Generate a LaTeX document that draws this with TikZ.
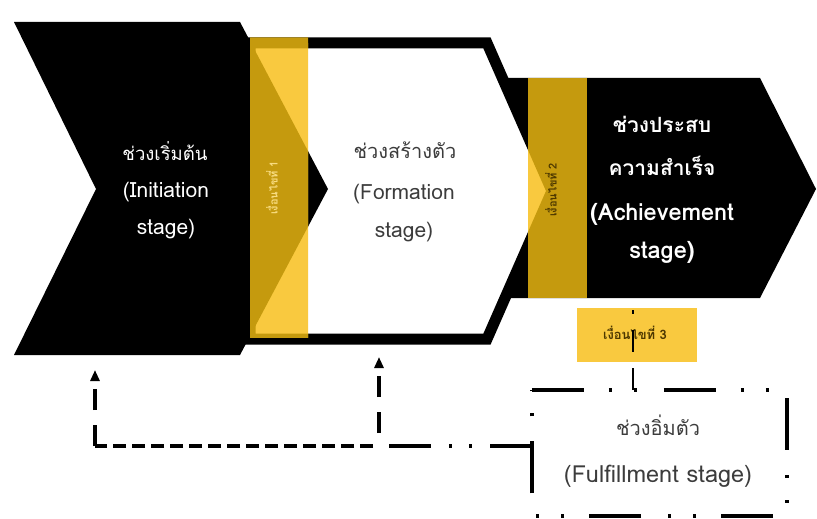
\documentclass[tikz,border=0pt]{standalone}
\usepackage{fontspec}
\newfontfamily\thaifont[Script=Thai]{Loma}
\usetikzlibrary{arrows.meta}
\definecolor{gold}{HTML}{C59A0E}
\definecolor{lightgold}{HTML}{F9C93F}
\definecolor{softgrey}{HTML}{3C3C3C}
\definecolor{cream}{HTML}{F8DC80}
\definecolor{brown}{HTML}{4D3800}
\tikzset{
  formline/.style={line width=11pt, miter limit=10, line join=miter},
  txt/.style={anchor=base, inner sep=0pt},
  fs/.style={font=\thaifont\fontsize{#1}{#1}\selectfont},
  fsb/.style={font=\thaifont\bfseries\fontsize{#1}{#1}\selectfont},
  gatetext/.style={rotate=90, inner sep=0pt, font=\thaifont\bfseries\fontsize{11}{13}\selectfont},
  gatebox/.style={fill=lightgold, minimum width=120pt, minimum height=54pt, inner sep=0pt},
  endbox/.style={minimum width=255pt, minimum height=126pt, inner sep=0pt},
  boxline/.style={line width=4.5pt, dash pattern=on 52pt off 25pt on 3pt off 22pt on 3pt off 27pt},
  ddline/.style={line width=3.5pt, dash pattern=on 42pt off 18pt on 3pt off 17pt on 3pt off 18pt},
  shortdash/.style={line width=3.5pt, dash pattern=on 13pt off 6pt},
  longdash/.style={line width=3.5pt, dash pattern=on 21pt off 15pt},
  uparrow/.style={-{Triangle[width=9pt,length=11pt]}},
}
\begin{document}
\begin{tikzpicture}[x=1pt, y=-1pt, font=\thaifont]
\useasboundingbox (0,0) rectangle (817,519);

% corner points of the three stage shapes
\coordinate (i1) at (14,22);   \coordinate (i2) at (240,22);  \coordinate (i3) at (328,189);
\coordinate (i4) at (240,355); \coordinate (i5) at (14,355);  \coordinate (i6) at (96,189);
\coordinate (f1) at (250,43);  \coordinate (f2) at (487,43);  \coordinate (f3) at (552,191);
\coordinate (f4) at (487,339); \coordinate (f5) at (250,339);
\coordinate (a1) at (500,78);  \coordinate (a2) at (760,78);  \coordinate (a3) at (816,189);
\coordinate (a4) at (760,298); \coordinate (a5) at (500,298);

% achievement arrow
\fill[black] (a1) -- (a2) -- (a3) -- (a4) -- (a5) -- cycle;
% formation outline
\draw[formline, draw=black, fill=white] (f1) -- (f2) -- (f3) -- (f4) -- (f5) -- cycle;
% initiation chevron
\fill[black] (i1) -- (i2) -- (i3) -- (i4) -- (i5) -- (i6) -- cycle;

% first gate bar
\begin{scope}
  \clip (250,38) rectangle (308,337);
  \fill[gold] (250,38) rectangle (308,337);
  \draw[formline, draw=gold, fill=lightgold] (f1) -- (f2) -- (f3) -- (f4) -- (f5) -- cycle;
  \fill[gold] (i1) -- (i2) -- (i3) -- (i4) -- (i5) -- (i6) -- cycle;
\end{scope}

% second gate bar
\begin{scope}
  \clip (528,78) rectangle (587,298);
  \fill[gold] (528,78) rectangle (587,298);
  \draw[formline, draw=gold, fill=lightgold] (f1) -- (f2) -- (f3) -- (f4) -- (f5) -- cycle;
\end{scope}

% initiation stage text
\node[txt, fs=18.5, text=white] (s1a) at (165,160) {ช่วงเริ่มต้น};
\node[txt, fs=21, text=white] (s1b) at (166,197) {(Initiation};
\node[txt, fs=21, text=white] (s1c) at (166,234) {stage)};
% formation stage text
\node[txt, fs=20, text=softgrey] (s2a) at (405,158) {ช่วงสร้างตัว};
\node[txt, fs=21, text=softgrey] (s2b) at (404,199) {(Formation};
\node[txt, fs=21, text=softgrey] (s2c) at (404,237) {stage)};
% achievement stage text
\node[txt, fsb=21, text=white] (s3a) at (662,132) {ช่วงประสบ};
\node[txt, fsb=21, text=white] (s3b) at (662,175) {ความสำเร็จ};
\node[txt, fsb=23.5, text=white] (s3c) at (662,220) {(Achievement};
\node[txt, fsb=23.5, text=white] (s3d) at (662,258) {stage)};

% gate labels
\node[gatetext, text=cream] (g1) at (272,188) {เงื่อนไขที่ 1};
\node[gatetext, text=brown] (g2) at (551,190) {เงื่อนไขที่ 2};
\node[gatebox] (g3) at (637,335) {};
\node[txt, fsb=13, text=brown] (g3t) at (635,339) {เงื่อนไขที่ 3};

% fulfillment stage
\node[endbox] (fb) at (659.5,453) {};
\draw[boxline] (fb.north west) -- (fb.north east) -- (fb.south east) -- (fb.south west) -- cycle;
\node[txt, fs=20, text=softgrey] (s4a) at (658,435) {ช่วงอิ่มตัว};
\node[txt, fs=23.5, text=softgrey] (s4b) at (658,482) {(Fulfillment stage)};

% feedback connectors
\coordinate (jn) at (379,446);
\coordinate (lc) at (95,446);
\coordinate (fbport) at (fb.west |- jn);
\coordinate (initfoot) at (95,370);
\coordinate (formfoot) at (379,357);
\draw[ddline] (fbport) -- (jn);
\draw[shortdash] ([xshift=-6pt]jn) -- (lc);
\draw[longdash, uparrow] (lc) -- (initfoot);
\draw[longdash, dash phase=23pt, uparrow] (jn) -- (formfoot);
\draw[line width=2.5pt, dash pattern=on 22pt off 16pt] (fb.north -| 633,0) -- (633,310);
\end{tikzpicture}
\end{document}
